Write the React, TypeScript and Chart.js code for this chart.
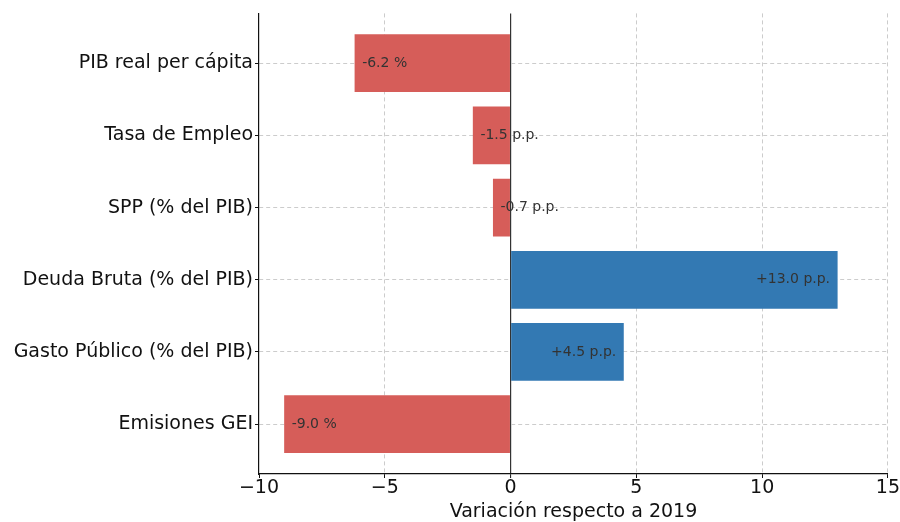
import React, { useEffect, useRef } from "react";
import { Chart, registerables } from "chart.js";

Chart.register(...registerables);

// Indicators, changes versus 2019, and the unit shown after each value
const CATEGORIES = [
  "PIB real per cápita",
  "Tasa de Empleo",
  "SPP (% del PIB)",
  "Deuda Bruta (% del PIB)",
  "Gasto Público (% del PIB)",
  "Emisiones GEI",
];
const VALUES = [-6.2, -1.5, -0.7, 13.0, 4.5, -9.0];
const UNITS = ["%", "p.p.", "p.p.", "p.p.", "p.p.", "%"];
const X_TICKS = [-10, -5, 0, 5, 10, 15];
const X_TITLE = "Variación respecto a 2019";

const RED = "#d65d59";
const BLUE = "#3379b3";
const FONT = "'DejaVu Sans', 'Liberation Sans', sans-serif";
const GRID = "#cccccc";
const LABEL_SHIFT = 0.3;

const formatTick = (v: number) => (v < 0 ? "\u2212" + Math.abs(v) : String(v));
const formatLabel = (v: number, unit: string) =>
  (v > 0 ? "+" : "") + v.toFixed(1) + " " + unit;

// Writes each value inside its bar, near the outer end
const valueLabels = {
  id: "valueLabels",
  afterDraw(chart: any) {
    const { ctx } = chart;
    const xs = chart.scales.x;
    const meta = chart.getDatasetMeta(0);
    ctx.save();
    ctx.font = `14px ${FONT}`;
    ctx.fillStyle = "#333333";
    ctx.textBaseline = "middle";
    VALUES.forEach((v, i) => {
      const el = meta.data[i];
      const neg = v < 0;
      const x = xs.getPixelForValue(neg ? v + LABEL_SHIFT : v - LABEL_SHIFT);
      ctx.textAlign = neg ? "left" : "right";
      ctx.fillText(formatLabel(v, UNITS[i]), x, el.y);
    });
    ctx.restore();
  },
};

export default function App() {
  const ref = useRef<HTMLCanvasElement | null>(null);

  useEffect(() => {
    if (!ref.current) return;
    const chart = new Chart(ref.current, {
      type: "bar",
      data: {
        datasets: [
          {
            data: VALUES.map((v, i) => ({ x: v, y: i })),
            backgroundColor: VALUES.map((v) => (v < 0 ? RED : BLUE)),
            borderWidth: 0,
            barPercentage: 0.8,
            categoryPercentage: 1,
          },
        ],
      },
      options: {
        indexAxis: "y",
        animation: false,
        responsive: false,
        maintainAspectRatio: false,
        layout: { padding: { top: 12, right: 12, left: 0, bottom: 0 } },
        plugins: { legend: { display: false }, tooltip: { enabled: false } },
        scales: {
          x: {
            type: "linear",
            position: "bottom",
            min: -10,
            max: 15,
            offset: false,
            z: 1,
            afterFit(s: any) {
              s.height = 48;
            },
            afterBuildTicks(s: any) {
              s.ticks = X_TICKS.map((v) => ({ value: v }));
            },
            ticks: {
              callback: (v: any) => formatTick(Number(v)),
              font: { family: FONT, size: 19, lineHeight: 1.1 },
              color: "#111111",
              padding: 0,
              maxRotation: 0,
            },
            grid: {
              offset: false,
              color: (c: any) =>
                c.tick && c.tick.value === -10
                  ? "rgba(0,0,0,0)"
                  : c.tick && c.tick.value === 0
                  ? "#333333"
                  : GRID,
              lineWidth: (c: any) => (c.tick && c.tick.value === 0 ? 1.2 : 1),
              drawTicks: true,
              tickLength: 4,
              tickColor: "#111111",
              tickWidth: 1,
            },
            border: {
              display: true,
              color: "#111111",
              width: 1.2,
              dash: (c: any) => (c.tick && c.tick.value !== 0 ? [4, 3] : []),
            },
            title: {
              display: true,
              text: X_TITLE,
              font: { family: FONT, size: 19, lineHeight: 1 },
              color: "#111111",
              padding: { top: 0, bottom: 0 },
            },
          },
          y: {
            type: "linear",
            reverse: true,
            min: -0.69,
            max: 5.69,
            offset: false,
            z: 1,
            afterFit(s: any) {
              s.width = 259;
            },
            afterBuildTicks(s: any) {
              s.ticks = CATEGORIES.map((_, i) => ({ value: i }));
            },
            ticks: {
              callback: (v: any) => CATEGORIES[Math.round(Number(v))],
              font: { family: FONT, size: 19 },
              color: "#111111",
              padding: 2,
            },
            grid: {
              offset: false,
              color: GRID,
              lineWidth: 1,
              drawTicks: true,
              tickLength: 4,
              tickColor: "#111111",
              tickWidth: 1,
            },
            border: {
              display: true,
              color: "#111111",
              width: 1.2,
              dash: (c: any) => (c.tick ? [4, 3] : []),
            },
          },
        },
      } as any,
      plugins: [valueLabels],
    });
    return () => chart.destroy();
  }, []);

  return (
    <div
      style={{
        position: "fixed",
        left: 0,
        top: 0,
        width: 900,
        height: 522,
        background: "#ffffff",
      }}
    >
      <canvas ref={ref} width={900} height={522} style={{ display: "block" }} />
    </div>
  );
}
